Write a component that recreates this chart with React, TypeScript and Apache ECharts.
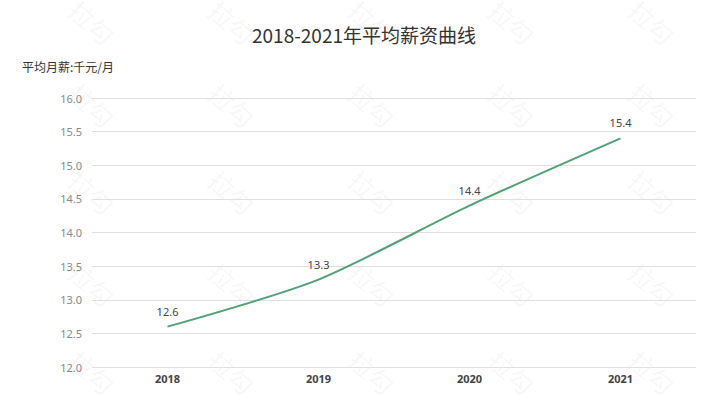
import React, { useEffect, useRef } from "react";
import * as echarts from "echarts";

const titleText = "2018-2021年平均薪资曲线";
const yAxisName = "平均月薪:千元/月";
const categories = ["2018", "2019", "2020", "2021"];
const salaries = [12.6, 13.3, 14.4, 15.4];
const yMin = 12;
const yMax = 16;
const yStep = 0.5;
const watermarkText = "拉勾";
const watermarkCols = [92, 232, 372, 512, 652];
const watermarkRows = [22, 105, 192, 284, 372];

export default function App() {
  const ref = useRef<HTMLDivElement>(null);
  useEffect(() => {
    document.body.style.margin = "0";
    if (!ref.current) return;
    const chart = echarts.init(ref.current, undefined, { renderer: "svg" });
    const marks: any[] = [];
    watermarkRows.forEach((y) =>
      watermarkCols.forEach((x) =>
        marks.push({
          type: "text",
          x,
          y,
          rotation: -0.72,
          originX: 0,
          originY: 0,
          z: -10,
          silent: true,
          style: {
            text: watermarkText,
            x: 0,
            y: 0,
            align: "center",
            verticalAlign: "middle",
            fontSize: 25,
            fontFamily: "Noto Sans CJK SC",
            fill: "rgba(0,0,0,0.055)",
          },
        })
      )
    );
    marks.push({
      type: "text",
      left: 22,
      top: 60,
      style: {
        text: yAxisName,
        fontSize: 12,
        fontFamily: "Noto Sans CJK SC",
        fill: "#333",
      },
    });
    chart.setOption({
      animation: false,
      backgroundColor: "#fff",
      title: {
        text: titleText,
        left: "center",
        top: 20,
        textStyle: {
          fontSize: 19,
          fontWeight: "normal",
          color: "#333",
          fontFamily: "Noto Sans CJK SC",
        },
      },
      graphic: marks,
      grid: { left: 92, right: 32, top: 98, bottom: 48 },
      xAxis: {
        type: "category",
        data: categories,
        boundaryGap: true,
        axisLine: { show: false },
        axisTick: { show: false },
        axisLabel: {
          margin: 6,
          fontSize: 11,
          fontWeight: "bold",
          color: "#444",
          fontFamily: "Noto Sans",
        },
      },
      yAxis: {
        type: "value",
        min: yMin,
        max: yMax,
        interval: yStep,
        axisLine: { show: false },
        axisTick: { show: false },
        splitLine: { lineStyle: { color: "#e0e0e0", width: 1 } },
        axisLabel: {
          margin: 10,
          fontSize: 11,
          color: "#8a8a8a",
          fontFamily: "Noto Sans",
          formatter: (v: number) => v.toFixed(1),
        },
      },
      series: [
        {
          type: "line",
          data: salaries,
          smooth: 0.25,
          symbol: "circle",
          symbolSize: 0,
          showSymbol: true,
          lineStyle: { color: "#52a277", width: 2 },
          itemStyle: { color: "#52a277" },
          label: {
            show: true,
            position: "top",
            distance: 10,
            fontSize: 11,
            color: "#444",
            fontFamily: "Noto Sans",
            formatter: (p: any) => Number(p.value).toFixed(1),
          },
        },
      ],
    });
    return () => chart.dispose();
  }, []);
  return <div ref={ref} style={{ width: 728, height: 415 }} />;
}
